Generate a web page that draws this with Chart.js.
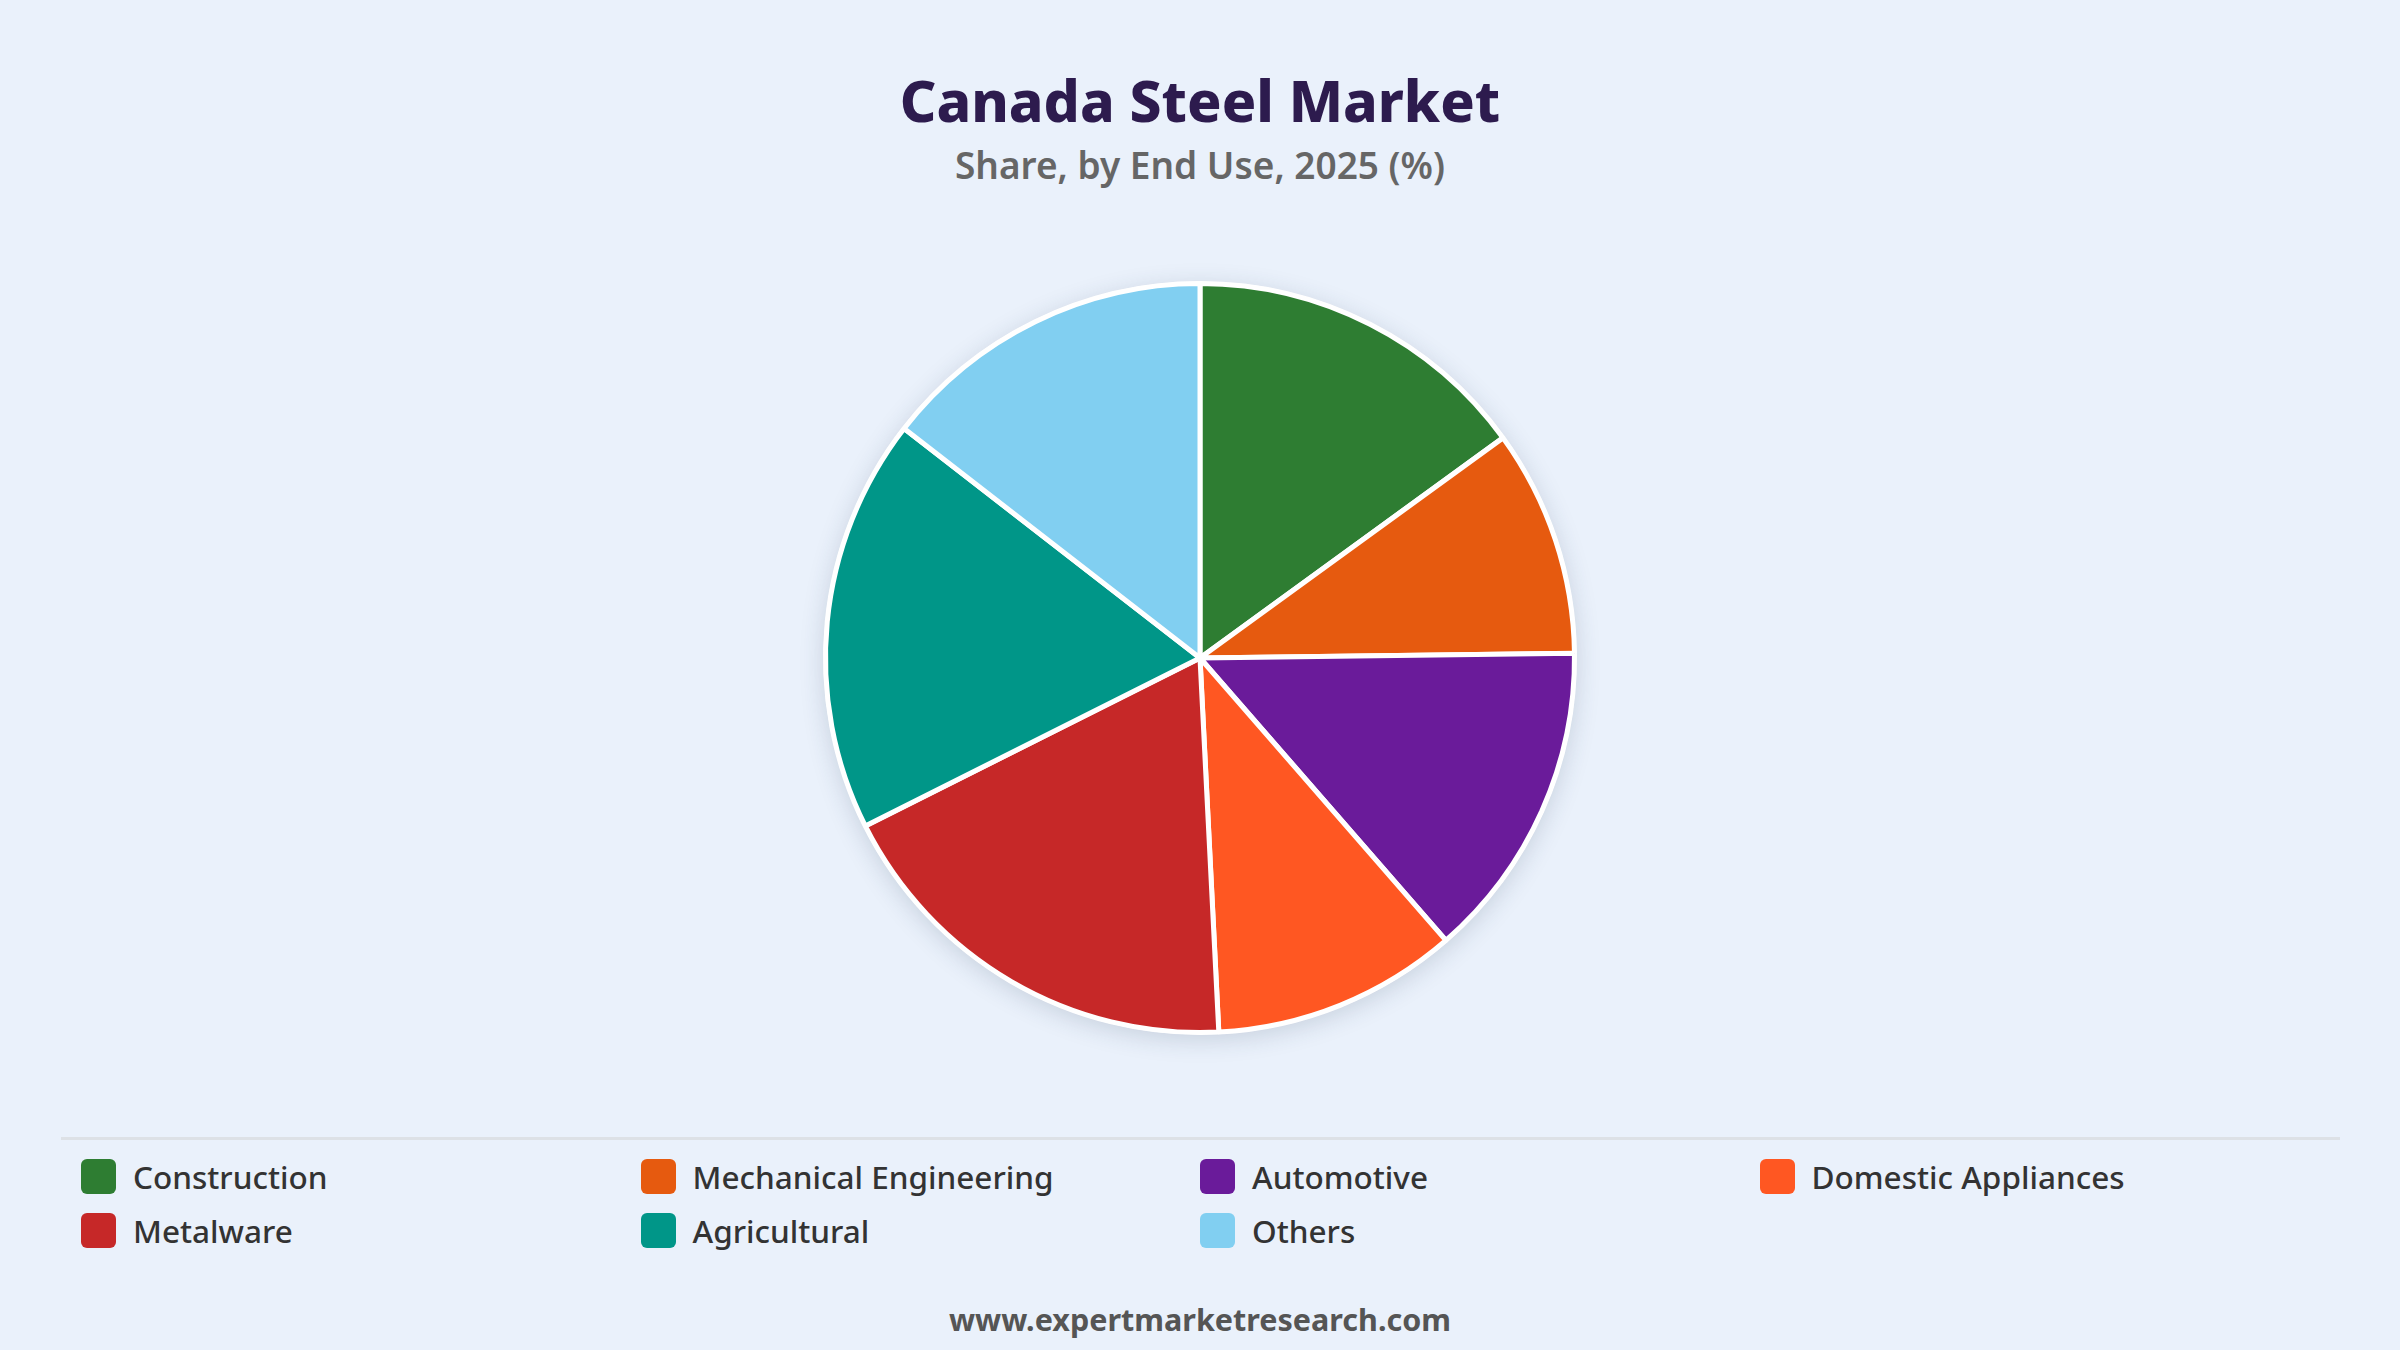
<!DOCTYPE html>
<html>
<head>
<meta charset="utf-8">
<title>Canada Steel Market</title>
<script src="https://cdn.jsdelivr.net/npm/chart.js@4.4.1/dist/chart.umd.min.js"></script>
<style>
  html, body {
    margin: 0;
    padding: 0;
    width: 2400px;
    height: 1350px;
    background: #eaf1fb;
    font-family: "Noto Sans", "Open Sans", sans-serif;
    overflow: hidden;
  }
  #title {
    position: absolute;
    left: 0; width: 2400px;
    top: 60px; height: 80px; line-height: 80px;
    text-align: center;
    font-size: 57px; font-weight: 800;
    color: #2d1b4e;
  }
  #subtitle {
    position: absolute;
    left: 0; width: 2400px;
    top: 142px; height: 46px; line-height: 46px;
    text-align: center;
    font-size: 37px; font-weight: 600;
    color: #666666;
  }
  #chartBox {
    position: absolute;
    left: 0; top: 228px;
    width: 2400px; height: 860px;
  }
  #rule {
    position: absolute;
    left: 61px; width: 2279px;
    top: 1137px; height: 3px;
    background: #dde1e6;
  }
  #legend {
    position: absolute;
    left: 81px; top: 1149px;
    display: grid;
    grid-template-columns: repeat(4, 559.5px);
    grid-auto-rows: 54px;
  }
  .item {
    display: flex;
    align-items: center;
    font-size: 31.5px;
    font-weight: 500;
    color: #333333;
  }
  .swatch {
    width: 35px; height: 35px;
    border-radius: 6px;
    margin-right: 17px;
    flex: none;
  }
  #footer {
    position: absolute;
    left: 0; width: 2400px;
    top: 1296px; height: 46px; line-height: 46px;
    text-align: center;
    font-size: 30.5px; font-weight: 700;
    color: #555555;
  }
</style>
</head>
<body>
<div id="title">Canada Steel Market</div>
<div id="subtitle">Share, by End Use, 2025 (%)</div>
<div id="chartBox"><canvas id="pieChart"></canvas></div>
<div id="rule"></div>
<div id="legend"></div>
<div id="footer">www.expertmarketresearch.com</div>

<script>
// Share by end use, 2025 (%)
const categories = ['Construction', 'Mechanical Engineering', 'Automotive', 'Domestic Appliances', 'Metalware', 'Agricultural', 'Others'];
const shares = [15.0, 9.8, 13.8, 10.6, 18.4, 17.9, 14.5];
const sliceColors = ['#2e7d32', '#e65a0f', '#6a1b9a', '#ff5722', '#c62828', '#009688', '#81cff1'];

// soft shadow under the whole pie
const pieShadow = {
    id: 'pieShadow',
    beforeDatasetsDraw(chart) {
        const arc = chart.getDatasetMeta(0).data[0];
        if (!arc) return;
        const ctx = chart.ctx;
        ctx.save();
        ctx.shadowColor = 'rgba(40, 60, 90, 0.18)';
        ctx.shadowBlur = 24;
        ctx.shadowOffsetY = 5;
        ctx.fillStyle = '#ffffff';
        ctx.beginPath();
        ctx.arc(arc.x, arc.y, arc.outerRadius + 2, 0, Math.PI * 2);
        ctx.fill();
        ctx.restore();
    }
};

const chart = new Chart(document.getElementById('pieChart'), {
    type: 'pie',
    data: {
        labels: categories,
        datasets: [{
            data: shares,
            backgroundColor: sliceColors,
            borderColor: '#ffffff',
            borderWidth: 5
        }]
    },
    options: {
        responsive: true,
        maintainAspectRatio: false,
        animation: false,
        layout: { padding: 53 },
        plugins: {
            legend: { display: false },
            tooltip: { enabled: false }
        }
    },
    plugins: [pieShadow]
});

// HTML legend in a fixed four-column grid
const legendEl = document.getElementById('legend');
categories.forEach((name, i) => {
    const item = document.createElement('div');
    item.className = 'item';
    const sw = document.createElement('span');
    sw.className = 'swatch';
    sw.style.background = sliceColors[i];
    item.appendChild(sw);
    item.appendChild(document.createTextNode(name));
    legendEl.appendChild(item);
});
</script>
</body>
</html>
